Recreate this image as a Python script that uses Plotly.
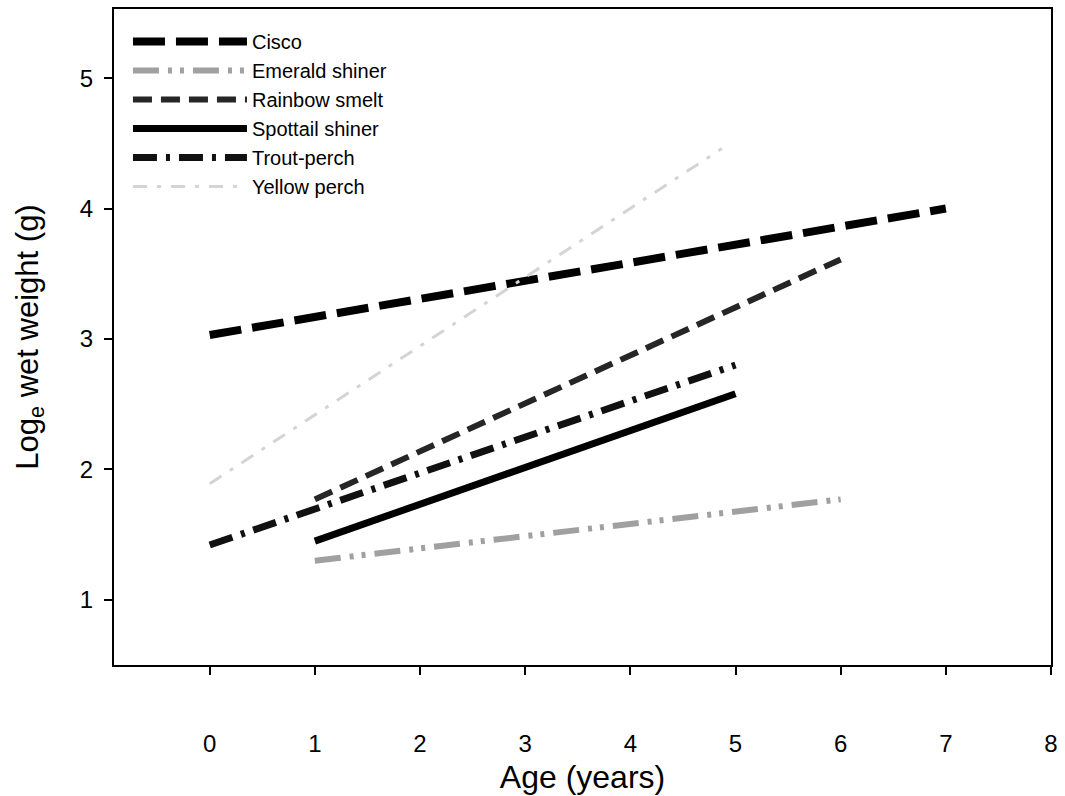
import plotly.graph_objects as go

# Data (age in years, log_e wet weight in g)
species = ["Cisco", "Emerald shiner", "Rainbow smelt", "Spottail shiner", "Trout-perch", "Yellow perch"]
cisco_age = [0, 7]
cisco_wt = [3.03, 4.00]
emerald_age = [1, 6]
emerald_wt = [1.30, 1.77]
smelt_age = [1, 6]
smelt_wt = [1.77, 3.61]
spottail_age = [1, 5]
spottail_wt = [1.45, 2.58]
trout_age = [0, 5]
trout_wt = [1.42, 2.80]
yperch_age = [0, 4.87]
yperch_wt = [1.89, 4.46]

x_ticks = [0, 1, 2, 3, 4, 5, 6, 7, 8]
y_ticks = [1, 2, 3, 4, 5]

styles = [
    dict(color="#000000", width=8, dash="32px,11px"),
    dict(color="#a0a0a0", width=6, dash="26px,9px,4px,8px,4px,9px"),
    dict(color="#262626", width=6, dash="19px,9px"),
    dict(color="#000000", width=7, dash="solid"),
    dict(color="#111111", width=7, dash="24px,9px,4px,9px"),
    dict(color="#d4d4d4", width=3, dash="14px,10px,4px,10px"),
]
data = [
    (cisco_age, cisco_wt),
    (emerald_age, emerald_wt),
    (smelt_age, smelt_wt),
    (spottail_age, spottail_wt),
    (trout_age, trout_wt),
    (yperch_age, yperch_wt),
]

fig = go.Figure()
for name, (xa, ya), st in zip(species, data, styles):
    fig.add_trace(go.Scatter(x=xa, y=ya, mode="lines", name=name, line=st))

font_family = "Liberation Sans, Arial, Helvetica, sans-serif"
fig.update_layout(
    width=1065, height=796,
    margin=dict(l=114, r=11, t=7, b=114),
    paper_bgcolor="white", plot_bgcolor="white",
    font=dict(family=font_family, color="black", size=24),
    showlegend=True,
    legend=dict(
        x=0.0149, y=0.98, xanchor="left", yanchor="top",
        bgcolor="rgba(0,0,0,0)", font=dict(size=20),
        itemwidth=114, tracegroupgap=0,
    ),
    xaxis=dict(
        range=[-0.91, 8.0], tickvals=x_ticks, ticks="outside", ticklen=8,
        tickwidth=1.5, tickcolor="black", showline=True, linecolor="black",
        linewidth=2, mirror=True, showgrid=False, zeroline=False,
        ticklabelstandoff=48, tickfont=dict(size=24),
        title=dict(text="Age (years)", font=dict(size=32), standoff=10),
    ),
    yaxis=dict(
        range=[0.5, 5.53], tickvals=y_ticks, ticks="outside", ticklen=8,
        tickwidth=1.5, tickcolor="black", showline=True, linecolor="black",
        linewidth=2, mirror=True, showgrid=False, zeroline=False,
        ticklabelstandoff=6, tickfont=dict(size=24),
        title=dict(text="Log<sub>e</sub> wet weight (g)", font=dict(size=31), standoff=32),
    ),
)

fig.write_html("out.html")
